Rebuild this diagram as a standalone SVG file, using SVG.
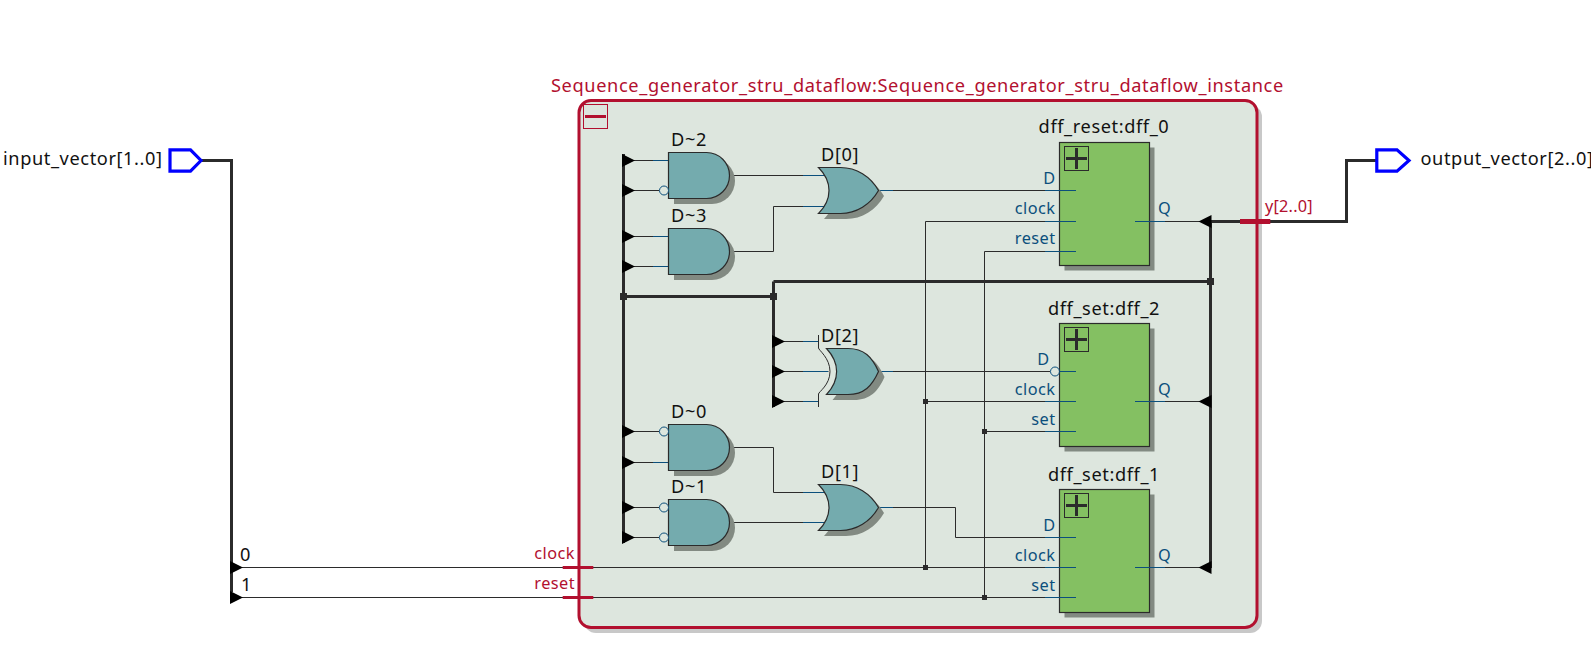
<svg xmlns="http://www.w3.org/2000/svg" width="1591" height="648" viewBox="0 0 1591 648">
<style>
text{font-family:"Noto Sans","Open Sans","DejaVu Sans",sans-serif;font-size:18.200px;letter-spacing:.6px;fill:#111}
.r{fill:#b2102f;font-size:16.300px;letter-spacing:.45px}
.b{fill:#0b4f7c;font-size:16.300px;letter-spacing:.45px}
.e{text-anchor:end}
.m{text-anchor:middle}
.w{fill:none;stroke:#2b2b2b;stroke-width:1}
.bw{fill:none;stroke:#2b2b2b;stroke-width:3}
.pin{fill:none;stroke:#0b4f7c;stroke-width:1}
.tk{fill:none;stroke:#b2102f;stroke-width:3}
.tkb{fill:none;stroke:#b2102f;stroke-width:5}
.gate{fill:#74abae;stroke:#2b2b2b;stroke-width:1.200}
.sh{fill:#828a82}
.ff{fill:#84c062;stroke:#2b2b2b;stroke-width:1.200}
.pbox{fill:none;stroke:#2b2b2b;stroke-width:1}
.plus{fill:none;stroke:#2b2b2b;stroke-width:3}
.port{fill:#fff;stroke:#0000ff;stroke-width:3.200}
.bub{fill:#dde6de;stroke:#0b4f7c;stroke-width:1}
.jn{fill:#2b2b2b}
</style>
<defs>
<path id="tri" d="M0 -6.500L13 0L0 6.500Z" fill="#000"/>
<path id="tril" d="M0 -6.500L-13 0L0 6.500Z" fill="#000"/>
<path id="and" d="M0 0H38A23 23 0 0 1 38 46H0Z"/>
<path id="or" d="M0 0H22C38 0 52 9 60 23C52 37 38 46 22 46H0C14 32 14 14 0 0Z"/>
<path id="xor" d="M0 0H21.500C37.500 0 45.500 8.500 52 23C45.500 37.500 37.500 46 21.500 46H0C13.500 31.500 13.500 14.500 0 0Z"/>
</defs>

<g id="container">
<rect x="584" y="105" width="678" height="528" rx="12" fill="#c8c8c8"/>
<rect x="579" y="100.500" width="678" height="527" rx="12" fill="#dde6de" stroke="#b2102f" stroke-width="3"/>
<rect x="583.500" y="104.500" width="24" height="24" fill="none" stroke="#b2102f" stroke-width="1"/>
<path d="M585 116.500H606" fill="none" stroke="#b2102f" stroke-width="3"/>
<text class="r" x="551" y="92" style="font-size:18.200px;letter-spacing:.63px">Sequence_generator_stru_dataflow:Sequence_generator_stru_dataflow_instance</text>
</g>

<g id="connectors">
<path class="bw" d="M200 160.500H231.500V592"/>
<path class="bw" d="M623.500 154V543M623.500 296.500H773.500M773.500 281.500V407M773.500 281.500H1210.500M1210.500 221.500V568M1210.500 221.500H1346.500V160.500H1376"/>
<path class="w" d="M240 567.500H1076M240 597.500H1076"/>
<path class="w" d="M634 160.500H668M634 190.500H659M634 236.500H668M634 266.500H668"/>
<path class="w" d="M634 431.500H659M634 462.500H668M634 507.500H659M634 537.500H659"/>
<path class="w" d="M729 175.500H825M729 251.500H773.500V206.500H825"/>
<path class="w" d="M729 447.500H773.500V492.500H825M729 522.500H825"/>
<path class="w" d="M784 341.500H818.500M784 371.500H828.500M784 401.500H818.500"/>
<path class="w" d="M878 190.500H1076M878 371.500H1050M878 507.500H955.500V537.500H1076"/>
<path class="w" d="M925.500 221.500H1076M925.500 221.500V567.500M925.500 401.500H1076"/>
<path class="w" d="M984.500 251.500H1076M984.500 251.500V597.500M984.500 431.500H1076"/>
<path class="w" d="M1135 221.500H1200M1135 401.500H1200M1135 567.500H1200"/>
<path class="w" d="M818.500 335V348C818.500 350 830 358 830 371.500C830 385 818.500 392 818.500 394V407"/>
<path class="pin" d="M653 160.500H668M653 236.500H668M653 266.500H668M653 462.500H668M803 175.500H825M803 206.500H825M803 492.500H825M803 522.500H825M803 341.500H818M803 371.500H828M803 401.500H818M729 175.500H734M729 251.500H734M729 447.500H734M729 522.500H734M878 190.500H893M878 371.500H893M878 507.500H893"/>
<path class="tk" d="M562.700 567.500H593.300M562.700 597.500H593.300"/>
<path class="tkb" d="M1240 221.500H1270.300"/>
<g>
<use href="#tri" x="230" y="567.500"/><use href="#tri" x="230" y="597.500"/>
<use href="#tri" x="622" y="160.500"/><use href="#tri" x="622" y="190.500"/><use href="#tri" x="622" y="236.500"/><use href="#tri" x="622" y="266.500"/>
<use href="#tri" x="622" y="431.500"/><use href="#tri" x="622" y="462.500"/><use href="#tri" x="622" y="507.500"/><use href="#tri" x="622" y="537.500"/>
<use href="#tri" x="772" y="341.500"/><use href="#tri" x="772" y="371.500"/><use href="#tri" x="772" y="401.500"/>
<use href="#tril" x="1211.500" y="221.500"/><use href="#tril" x="1211.500" y="401.500"/><use href="#tril" x="1211.500" y="567.500"/>
</g>
<rect class="jn" x="620" y="293" width="7" height="7"/><rect class="jn" x="770" y="293" width="7" height="7"/><rect class="jn" x="1207" y="278" width="7" height="7"/>
<rect class="jn" x="923" y="399" width="5" height="5"/><rect class="jn" x="982" y="429" width="5" height="5"/><rect class="jn" x="923" y="565" width="5" height="5"/><rect class="jn" x="982" y="595" width="5" height="5"/>
<text x="240" y="561">0</text><text x="241" y="591">1</text>
<text class="r e" x="575" y="559">clock</text><text class="r e" x="575" y="589">reset</text>
<text class="r" x="1265" y="212" style="letter-spacing:.2px">y[2..0]</text>
</g>

<g id="input_vector"><path class="port" d="M170 149.800H190.500L201 160.500L190.500 171.200H170Z"/><text x="3" y="165">input_vector[1..0]</text></g>
<g id="output_vector"><path class="port" d="M1376.800 149.800H1397L1409 160.500L1397 171.200H1376.800Z"/><text x="1420.500" y="165">output_vector[2..0]</text></g>

<g id="D_2"><use class="sh" href="#and" x="674" y="158"/><use class="gate" href="#and" x="668.500" y="152.500"/><circle class="bub" cx="664" cy="190.500" r="4.500"/><text x="671" y="146">D~2</text></g>
<g id="D_3"><use class="sh" href="#and" x="674" y="234"/><use class="gate" href="#and" x="668.500" y="228.500"/><text x="671" y="222">D~3</text></g>
<g id="D_0"><use class="sh" href="#and" x="674" y="430"/><use class="gate" href="#and" x="668.500" y="424.500"/><circle class="bub" cx="664" cy="431.500" r="4.500"/><text x="671" y="418">D~0</text></g>
<g id="D_1"><use class="sh" href="#and" x="674" y="505"/><use class="gate" href="#and" x="668.500" y="499.500"/><circle class="bub" cx="664" cy="507.500" r="4.500"/><circle class="bub" cx="664" cy="537.500" r="4.500"/><text x="671" y="493">D~1</text></g>
<g id="Dout0"><use class="sh" href="#or" x="824" y="173"/><use class="gate" href="#or" x="818.500" y="167.500"/><text x="821" y="161">D[0]</text></g>
<g id="Dout1"><use class="sh" href="#or" x="824" y="490"/><use class="gate" href="#or" x="818.500" y="484.500"/><text x="821" y="478">D[1]</text></g>
<g id="Dout2"><use class="sh" href="#xor" x="832.500" y="354"/><use class="gate" href="#xor" x="826.500" y="348.500"/><text x="821" y="342">D[2]</text></g>

<g id="dff_0"><rect class="sh" x="1064.500" y="147.500" width="90" height="123"/><rect class="ff" x="1059.500" y="142.500" width="90" height="123"/><rect class="pbox" x="1064.500" y="146.500" width="24" height="24"/><path class="plus" d="M1066 158.500H1087M1076.500 148V169"/><path class="pin" d="M1045 190.500H1076M1045 221.500H1076M1045 251.500H1076M1135 221.500H1165"/><text class="m" x="1104" y="133">dff_reset:dff_0</text><text class="b e" x="1055.500" y="184">D</text><text class="b e" x="1055.500" y="214">clock</text><text class="b e" x="1055.500" y="244">reset</text><text class="b" x="1158" y="214">Q</text></g>
<g id="dff_2"><rect class="sh" x="1064.500" y="328.500" width="90" height="123"/><rect class="ff" x="1059.500" y="323.500" width="90" height="123"/><rect class="pbox" x="1064.500" y="327.500" width="24" height="24"/><path class="plus" d="M1066 339.500H1087M1076.500 329V350"/><path class="pin" d="M1060 371.500H1076M1045 401.500H1076M1045 431.500H1076M1135 401.500H1165"/><circle class="bub" cx="1055" cy="371.500" r="4.500" style="fill:none"/><text class="m" x="1104" y="315">dff_set:dff_2</text><text class="b e" x="1049.500" y="365">D</text><text class="b e" x="1055.500" y="395">clock</text><text class="b e" x="1055.500" y="425">set</text><text class="b" x="1158" y="395">Q</text></g>
<g id="dff_1"><rect class="sh" x="1064.500" y="494.500" width="90" height="123"/><rect class="ff" x="1059.500" y="489.500" width="90" height="123"/><rect class="pbox" x="1064.500" y="493.500" width="24" height="24"/><path class="plus" d="M1066 505.500H1087M1076.500 495V516"/><path class="pin" d="M1045 537.500H1076M1045 567.500H1076M1045 597.500H1076M1135 567.500H1165"/><text class="m" x="1104" y="481">dff_set:dff_1</text><text class="b e" x="1055.500" y="531">D</text><text class="b e" x="1055.500" y="561">clock</text><text class="b e" x="1055.500" y="591">set</text><text class="b" x="1158" y="561">Q</text></g>
</svg>
